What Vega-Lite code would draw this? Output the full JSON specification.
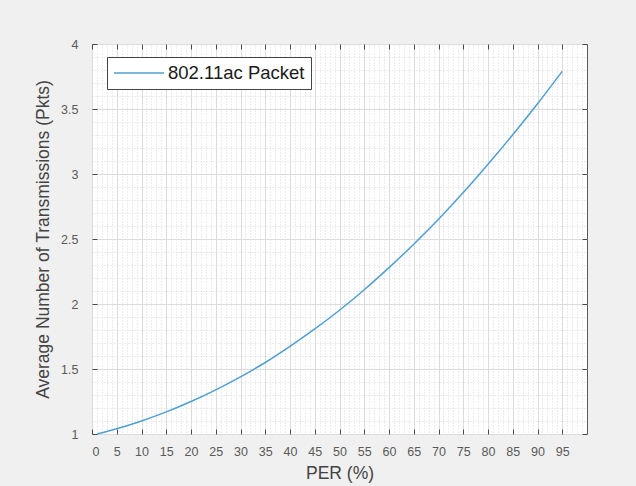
{
  "$schema": "https://vega.github.io/schema/vega-lite/v6.json",
  "width": 495,
  "height": 390,
  "autosize": {"type": "none"},
  "padding": {"left": 92, "top": 44, "right": 49, "bottom": 52},
  "background": "#f0f0f0",
  "config": {
    "view": {"fill": "white", "stroke": "#5a5a5a", "strokeWidth": 1},
    "font": "Liberation Sans"
  },
  "data": {
    "values": [
      {"per": 1, "avg": 1.00, "series": "802.11ac Packet"},
      {"per": 5, "avg": 1.04, "series": "802.11ac Packet"},
      {"per": 10, "avg": 1.10, "series": "802.11ac Packet"},
      {"per": 15, "avg": 1.17, "series": "802.11ac Packet"},
      {"per": 20, "avg": 1.25, "series": "802.11ac Packet"},
      {"per": 25, "avg": 1.34, "series": "802.11ac Packet"},
      {"per": 30, "avg": 1.44, "series": "802.11ac Packet"},
      {"per": 35, "avg": 1.55, "series": "802.11ac Packet"},
      {"per": 40, "avg": 1.674, "series": "802.11ac Packet"},
      {"per": 45, "avg": 1.808, "series": "802.11ac Packet"},
      {"per": 50, "avg": 1.952, "series": "802.11ac Packet"},
      {"per": 55, "avg": 2.11, "series": "802.11ac Packet"},
      {"per": 60, "avg": 2.28, "series": "802.11ac Packet"},
      {"per": 65, "avg": 2.46, "series": "802.11ac Packet"},
      {"per": 70, "avg": 2.652, "series": "802.11ac Packet"},
      {"per": 75, "avg": 2.857, "series": "802.11ac Packet"},
      {"per": 80, "avg": 3.075, "series": "802.11ac Packet"},
      {"per": 85, "avg": 3.302, "series": "802.11ac Packet"},
      {"per": 90, "avg": 3.54, "series": "802.11ac Packet"},
      {"per": 95, "avg": 3.79, "series": "802.11ac Packet"}
    ]
  },
  "resolve": {"axis": {"x": "independent", "y": "independent"}},
  "layer": [
    {
      "mark": {"type": "line", "opacity": 0},
      "encoding": {
        "x": {"field": "per", "type": "quantitative", "scale": {"domain": [0, 100], "nice": false, "zero": false},
          "axis": {"orient": "bottom", "title": null, "labels": false, "ticks": false, "domain": false, "grid": true,
            "values": [1,2,3,4,6,7,8,9,11,12,13,14,16,17,18,19,21,22,23,24,26,27,28,29,31,32,33,34,36,37,38,39,41,42,43,44,46,47,48,49,51,52,53,54,56,57,58,59,61,62,63,64,66,67,68,69,71,72,73,74,76,77,78,79,81,82,83,84,86,87,88,89,91,92,93,94,96,97,98,99],
            "gridColor": "#d8d8d8", "gridDash": [1, 2], "gridWidth": 1}},
        "y": {"field": "avg", "type": "quantitative", "scale": {"domain": [1, 4], "nice": false, "zero": false},
          "axis": {"orient": "left", "title": null, "labels": false, "ticks": false, "domain": false, "grid": true,
            "values": [1.1,1.2,1.3,1.4,1.6,1.7,1.8,1.9,2.1,2.2,2.3,2.4,2.6,2.7,2.8,2.9,3.1,3.2,3.3,3.4,3.6,3.7,3.8,3.9],
            "gridColor": "#d8d8d8", "gridDash": [1, 2], "gridWidth": 1}}
      }
    },
    {
      "mark": {"type": "line", "opacity": 0},
      "encoding": {
        "x": {"field": "per", "type": "quantitative", "scale": {"domain": [0, 100], "nice": false, "zero": false},
          "axis": {"orient": "top", "offset": -390, "title": null, "labels": false, "ticks": true, "tickSize": 5, "tickColor": "#4a4a4a", "domain": false, "grid": true,
            "values": [0,5,10,15,20,25,30,35,40,45,50,55,60,65,70,75,80,85,90,95],
            "gridColor": "#dcdcdc", "gridWidth": 1}},
        "y": {"field": "avg", "type": "quantitative", "scale": {"domain": [1, 4], "nice": false, "zero": false},
          "axis": {"orient": "right", "offset": -495, "title": null, "labels": false, "ticks": true, "tickSize": 5, "tickColor": "#4a4a4a", "domain": false, "grid": true,
            "values": [1,1.5,2,2.5,3,3.5,4],
            "gridColor": "#dcdcdc", "gridWidth": 1}}
      }
    },
    {
      "mark": {"type": "line", "opacity": 0},
      "encoding": {
        "x": {"field": "per", "type": "quantitative", "scale": {"domain": [0, 100], "nice": false, "zero": false},
          "axis": {"orient": "bottom", "offset": -390, "title": null, "labels": false, "ticks": true, "tickSize": 5, "tickColor": "#4a4a4a", "domain": false, "grid": false,
            "values": [0,5,10,15,20,25,30,35,40,45,50,55,60,65,70,75,80,85,90,95]}},
        "y": {"field": "avg", "type": "quantitative", "scale": {"domain": [1, 4], "nice": false, "zero": false},
          "axis": {"orient": "left", "offset": -495, "title": null, "labels": false, "ticks": true, "tickSize": 5, "tickColor": "#4a4a4a", "domain": false, "grid": false,
            "values": [1,1.5,2,2.5,3,3.5,4]}}
      }
    },
    {
      "mark": {"type": "line", "strokeWidth": 1.5, "interpolate": "monotone"},
      "encoding": {
        "x": {"field": "per", "type": "quantitative", "scale": {"domain": [0, 100], "nice": false, "zero": false},
          "axis": {"orient": "bottom", "title": "PER (%)", "ticks": false, "domain": false, "grid": false,
            "values": [0,5,10,15,20,25,30,35,40,45,50,55,60,65,70,75,80,85,90,95],
            "labelFontSize": 12.5, "labelColor": "#5a5a5a", "labelPadding": 11,
            "titleFontSize": 17.5, "titleFontWeight": "normal", "titleColor": "#444444", "titlePadding": 7}},
        "y": {"field": "avg", "type": "quantitative", "scale": {"domain": [1, 4], "nice": false, "zero": false},
          "axis": {"orient": "left", "title": "Average Number of Transmissions (Pkts)", "ticks": false, "domain": false, "grid": false,
            "values": [1,1.5,2,2.5,3,3.5,4], "format": "~g",
            "labelFontSize": 12.5, "labelColor": "#5a5a5a", "labelPadding": 14,
            "titleFontSize": 17.5, "titleFontWeight": "normal", "titleColor": "#444444", "titlePadding": 8}},
        "color": {"field": "series", "type": "nominal", "scale": {"range": ["#4f9fd2"]},
          "legend": {"title": null, "orient": "none", "legendX": 15, "legendY": 13,
            "symbolType": "stroke", "symbolSize": 2500, "symbolStrokeWidth": 1.5, "clipHeight": 20,
            "labelFontSize": 18.5, "labelColor": "#1a1a1a", "labelOffset": 3,
            "fillColor": "white", "strokeColor": "#444444", "padding": 6}}
      }
    }
  ]
}
